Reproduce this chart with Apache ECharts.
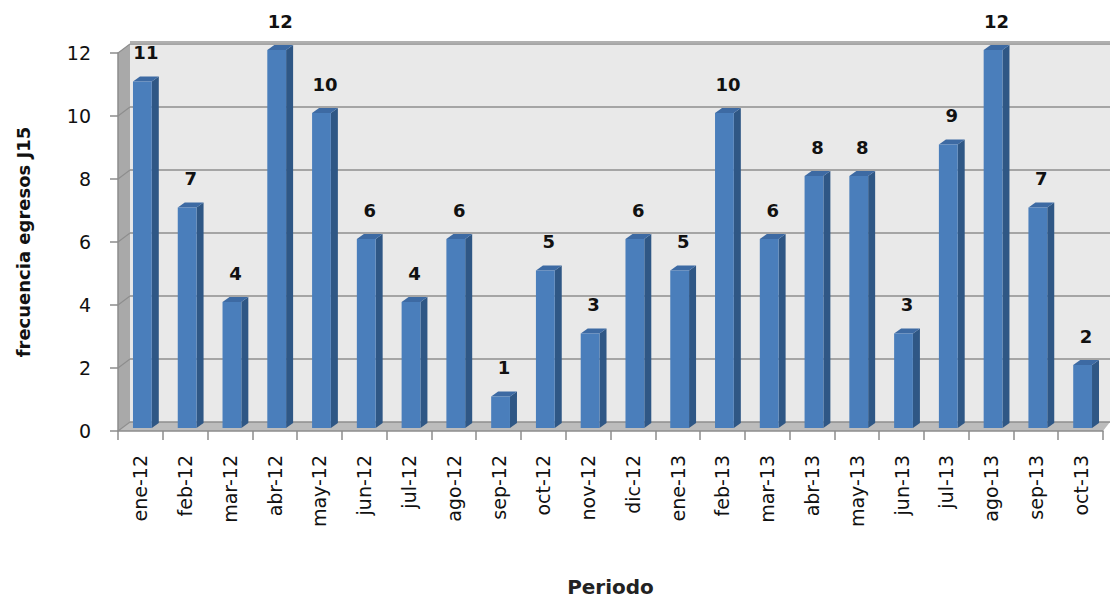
<!DOCTYPE html>
<html>
<head>
<meta charset="utf-8">
<script src="https://cdn.jsdelivr.net/npm/echarts@6/dist/echarts.min.js"></script>
<style>
  html, body { margin: 0; padding: 0; background: #fff; }
  #chart { width: 1112px; height: 602px; }
</style>
</head>
<body>
<div id="chart"></div>
<script>
var periods = ['ene-12', 'feb-12', 'mar-12', 'abr-12', 'may-12', 'jun-12', 'jul-12', 'ago-12',
  'sep-12', 'oct-12', 'nov-12', 'dic-12', 'ene-13', 'feb-13', 'mar-13', 'abr-13', 'may-13',
  'jun-13', 'jul-13', 'ago-13', 'sep-13', 'oct-13'];
var egresos = [11, 7, 4, 12, 10, 6, 4, 6, 1, 5, 3, 6, 5, 10, 6, 8, 8, 3, 9, 12, 7, 2];
var yTicks = { min: 0, max: 12, interval: 2 };

(function() {
  var font = '"DejaVu Sans", sans-serif';
  var front = '#4a7ebb';
  var side = '#2f5785';
  var top = '#3d6aa3';
  var dx = 7, dy = -5;   // bar depth
  var ox = 2, oy = -3;   // front face shift
  var wx = 12, wy = -9;  // back wall shift

  var chart = echarts.init(document.getElementById('chart'), null, { renderer: 'svg' });

  chart.setOption({
    animation: false,
    grid: [
      { left: 118, right: 9, top: 53, bottom: 171 },
      { left: 118 + wx, right: 9 - wx + 5, top: 53 + wy, bottom: 171 - wy,
        show: true, backgroundColor: '#e9e9e9', borderWidth: 0 }
    ],
    xAxis: [{
      type: 'category',
      gridIndex: 0,
      data: periods,
      name: 'Periodo',
      nameLocation: 'middle',
      nameGap: 146,
      nameTextStyle: { fontFamily: font, fontWeight: 'bold', fontSize: 20, color: '#222' },
      axisLine: { lineStyle: { color: '#8c8c8c', width: 1.5 } },
      axisTick: { show: true, length: 9, alignWithLabel: false, lineStyle: { color: '#8c8c8c', width: 1.5 } },
      axisLabel: { rotate: 90, margin: 24, fontFamily: font, fontSize: 19, color: '#111' },
      splitLine: { show: false }
    }, {
      type: 'category',
      gridIndex: 1,
      data: periods,
      show: false
    }],
    yAxis: [{
      type: 'value',
      gridIndex: 0,
      min: yTicks.min, max: yTicks.max, interval: yTicks.interval,
      name: 'frecuencia egresos J15',
      nameLocation: 'middle',
      nameGap: 86,
      nameTextStyle: { fontFamily: font, fontWeight: 'bold', fontSize: 18, color: '#111' },
      axisLine: { show: true, lineStyle: { color: '#8c8c8c', width: 1.5 } },
      axisTick: { show: true, length: 8, lineStyle: { color: '#8c8c8c', width: 1.5 } },
      axisLabel: { margin: 27, fontFamily: font, fontSize: 19, color: '#111' },
      splitLine: { show: false }
    }, {
      type: 'value',
      gridIndex: 1,
      min: yTicks.min, max: yTicks.max, interval: yTicks.interval,
      axisLine: { show: false },
      axisTick: { show: false },
      axisLabel: { show: false },
      splitLine: { show: true, lineStyle: { color: '#8e8e8e', width: 1.5 } }
    }],
    series: [{
      type: 'custom',
      xAxisIndex: 0,
      yAxisIndex: 0,
      data: egresos.map(function(v, i) { return [i, v]; }),
      renderItem: function(params, api) {
        var i = api.value(0), v = api.value(1);
        var p = api.coord([i, v]);
        var b = api.coord([i, 0]);
        var w = api.size([1, 0])[0] * 0.42;
        var x0 = p[0] - w / 2 + ox, x1 = x0 + w;
        var y0 = p[1] + oy, y1 = b[1] + oy;
        return {
          type: 'group',
          children: [
            { type: 'polygon', shape: { points: [[x1, y0], [x1 + dx, y0 + dy], [x1 + dx, y1 + dy], [x1, y1]] },
              style: { fill: side } },
            { type: 'polygon', shape: { points: [[x0, y0], [x0 + dx, y0 + dy], [x1 + dx, y0 + dy], [x1, y0]] },
              style: { fill: top } },
            { type: 'rect', shape: { x: x0, y: y0, width: w, height: y1 - y0 },
              style: { fill: front } },
            { type: 'text', x: (x0 + x1 + dx) / 2, y: y0 + dy - 15,
              style: { text: String(v), align: 'center', verticalAlign: 'bottom',
                font: 'bold 18px ' + font, fill: '#111' } }
          ]
        };
      }
    }]
  });

  // side wall, floor and wall grid joins
  var gx0 = 118, gx1 = 1112 - 9, gy0 = 53, gy1 = 431;
  var els = [
    { type: 'polygon', shape: { points: [[gx0, gy0], [gx0 + wx, gy0 + wy], [gx0 + wx, gy1 + wy], [gx0, gy1]] },
      style: { fill: '#a9a9a9' }, z: -1 },
    { type: 'polygon', shape: { points: [[gx0, gy1], [gx0 + wx, gy1 + wy], [gx1 + wx - 5, gy1 + wy], [gx1, gy1]] },
      style: { fill: '#bcbcbc' }, z: -1 },
    { type: 'line', shape: { x1: gx0 + wx, y1: gy0 + wy - 2, x2: gx1 + wx - 5, y2: gy0 + wy - 2 },
      style: { stroke: '#b0b0b0', lineWidth: 2 }, z: -1 }
  ];
  for (var t = yTicks.min; t <= yTicks.max; t += yTicks.interval) {
    var py = chart.convertToPixel({ gridIndex: 0 }, [0, t])[1];
    els.push({ type: 'line', shape: { x1: gx0, y1: py, x2: gx0 + wx, y2: py + wy },
      style: { stroke: '#8e8e8e', lineWidth: 1.2 }, z: -1 });
  }
  chart.setOption({ graphic: { elements: els } });

  window.addEventListener('resize', function() { chart.resize(); });
})();
</script>
</body>
</html>
